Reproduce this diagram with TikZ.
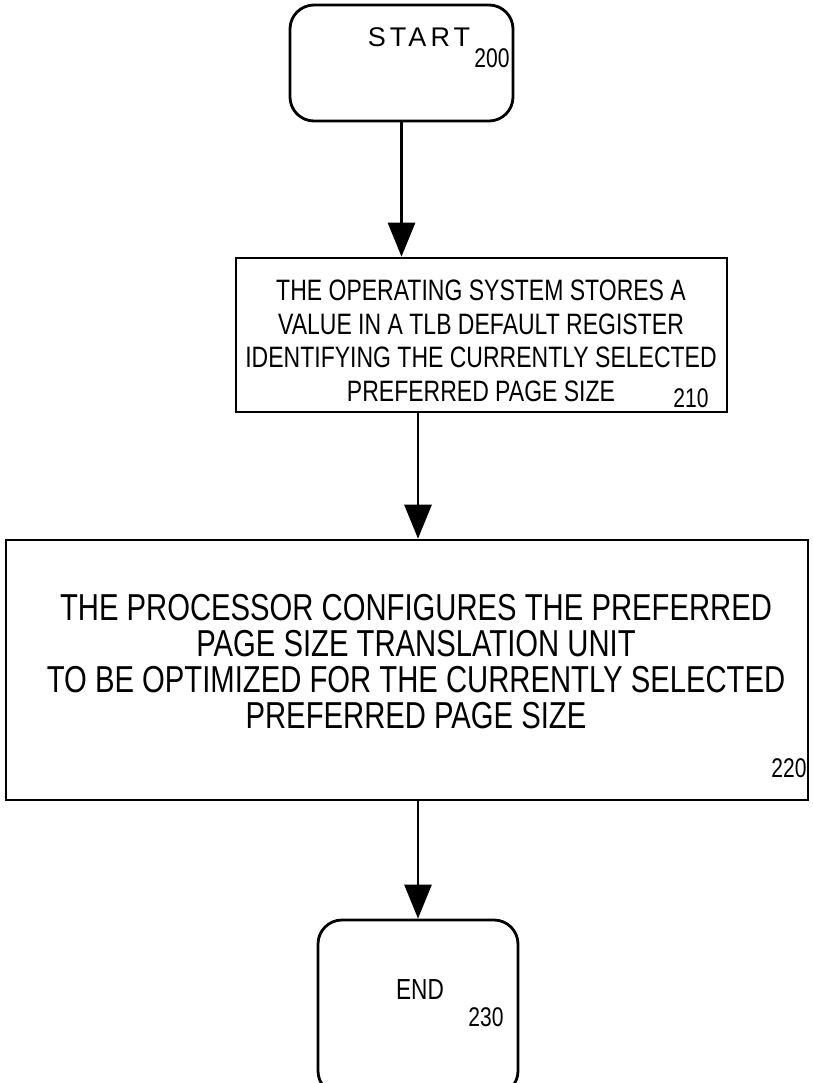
\documentclass[tikz,border=0pt]{standalone}
\usepackage{fontspec}
\setmainfont{Liberation Sans}[FakeStretch=0.78]
\newfontfamily\spacedfont{Liberation Sans}[LetterSpace=15]
\usetikzlibrary{arrows.meta}

\begin{document}
\begin{tikzpicture}[x=1pt,y=-1pt,
	term/.style={draw,line width=2.8pt,rounded corners=24pt,inner sep=0pt},
	proc/.style={draw,line width=2.6pt,inner sep=0pt},
	flow/.style={line width=2.8pt,-{Triangle[width=27pt,length=34pt]}},
	tag/.style={font=\fontsize{27}{27}\selectfont,inner sep=0pt}]
	\useasboundingbox (0,0) rectangle (812,1083);
	% start
	\node[term,minimum width=223pt,minimum height=116pt] (start) at (401.5,63) {};
	\node[font=\spacedfont\fontsize{27}{27}\selectfont] (starttxt) at (419,37) {START};
	\node[tag] (n200) at (492,58) {200};
	%
	\node[proc,minimum width=491pt,minimum height=154pt] (box210) at (481.5,335) {};
	\node[align=center,font=\fontsize{29.5}{33.5}\selectfont] (txt210) at (481,341)
		{THE OPERATING SYSTEM STORES A\\VALUE IN A TLB DEFAULT REGISTER\\
		IDENTIFYING THE CURRENTLY SELECTED\\PREFERRED PAGE SIZE};
	\node[tag] (n210) at (691,398) {210};
	%
	\node[proc,minimum width=802pt,minimum height=260pt] (box220) at (407,670) {};
	\node[align=center,font=\fontsize{37.5}{36}\selectfont] (txt220) at (416,662)
		{THE PROCESSOR CONFIGURES THE PREFERRED\\PAGE SIZE TRANSLATION UNIT\\
		TO BE OPTIMIZED FOR THE CURRENTLY SELECTED\\PREFERRED PAGE SIZE};
	\node[tag] (n220) at (789,768) {220};
	% end
	\node[term,minimum width=200pt,minimum height=175pt] (stop) at (418,1007.5) {};
	\node[font=\fontsize{29}{29}\selectfont] (stoptxt) at (420,990) {END};
	\node[tag] (n230) at (486,1017) {230};
	%
	\draw[flow] (start.south) -- (start.south |- box210.north);
	\draw[flow] (box210.south -| stop.north) -- (box220.north -| stop.north);
	\draw[flow] (box220.south -| stop.north) -- (stop.north);
\end{tikzpicture}
\end{document}
